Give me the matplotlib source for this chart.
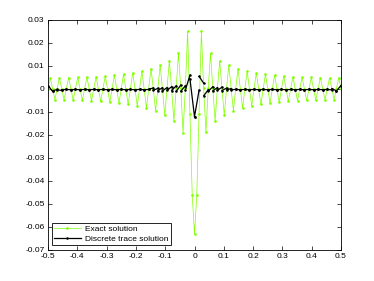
import numpy as np
import matplotlib
matplotlib.use("Agg")
import matplotlib.pyplot as plt
from matplotlib.ticker import FuncFormatter

# ---- data ----
# exact solution sampled on 129 points (h = 1/128), x from -0.5 to 0.5
exact_x = np.linspace(-0.5, 0.5, 129)
exact_left = [
    0.0002, 0.0048, 0.0001, -0.0046, 0.0001, 0.0048, 0.0001, -0.0047,
    0.0001, 0.0049, 0.0001, -0.0048, 0.0001, 0.0050, 0.0001, -0.0050,
    0.0001, 0.0051, 0.0001, -0.0051, 0.0001, 0.0053, 0.0001, -0.0054,
    0.0001, 0.0056, 0.0001, -0.0058, 0.0001, 0.0060, 0.0001, -0.0062,
    0.0001, 0.0064, 0.0001, -0.0067, 0.0001, 0.0070, 0.0001, -0.0074,
    0.0001, 0.0078, 0.0001, -0.0083, 0.0001, 0.0088, 0.0001, -0.0095,
    0.0002, 0.0103, 0.0002, -0.0115, 0.0002, 0.0122, 0.0002, -0.0140,
    0.0003, 0.0156, 0.0003, -0.0190, 0.0004, 0.0250, -0.0110, -0.0460,
]
exact_center = [-0.0630]
exact_right = [
    -0.0460, -0.0110, 0.0250, 0.0004, -0.0188, 0.0003, 0.0155, 0.0003,
    -0.0139, 0.0002, 0.0121, 0.0002, -0.0114, 0.0002, 0.0104, 0.0002,
    -0.0095, 0.0001, 0.0088, 0.0001, -0.0083, 0.0001, 0.0077, 0.0001,
    -0.0074, 0.0001, 0.0070, 0.0001, -0.0067, 0.0001, 0.0064, 0.0001,
    -0.0062, 0.0001, 0.0060, 0.0001, -0.0058, 0.0001, 0.0056, 0.0001,
    -0.0054, 0.0001, 0.0053, 0.0001, -0.0051, 0.0001, 0.0051, 0.0001,
    -0.0050, 0.0001, 0.0050, 0.0001, -0.0048, 0.0001, 0.0049, 0.0001,
    -0.0047, 0.0001, 0.0048, 0.0001, -0.0046, 0.0001, 0.0048, 0.0002,
]
exact_y = np.array(exact_left + exact_center + exact_right)

# discrete trace solution: 64 elements, value at left / right end of each element
n_elem = 64
trace_left = [
    0.0015, -0.0008, -0.0004, -0.0003, -0.0002, -0.0003, -0.0002, -0.0003,
    -0.0002, -0.0003, -0.0002, -0.0003, -0.0002, -0.0003, -0.0002, -0.0003,
    -0.0002, -0.0003, -0.0002, -0.0003, -0.0002, -0.0003, -0.0002, -0.0006,
    -0.0007, -0.0008, -0.0006, -0.0007, -0.0010, -0.0010, -0.0005, 0.0045,
    -0.0120, 0.0055, -0.0030, -0.0010, -0.0008, -0.0006, -0.0007, -0.0004,
    -0.0003, -0.0002, -0.0003, -0.0002, -0.0003, -0.0002, -0.0003, -0.0002,
    -0.0003, -0.0002, -0.0003, -0.0002, -0.0003, -0.0002, -0.0003, -0.0002,
    -0.0003, -0.0002, -0.0003, -0.0002, -0.0003, -0.0002, 0.0002, -0.0008,
]
trace_right = [
    -0.0010, -0.0002, -0.0006, -0.0002, -0.0003, -0.0002, -0.0003, -0.0002,
    -0.0003, -0.0002, -0.0003, -0.0002, -0.0003, -0.0002, -0.0003, -0.0002,
    -0.0003, -0.0002, -0.0003, -0.0002, -0.0003, -0.0002, 0.0005, 0.0003,
    0.0006, 0.0006, 0.0010, 0.0014, 0.0017, 0.0014, 0.0060, -0.0120,
    -0.0005, 0.0025, -0.0003, 0.0010, 0.0006, 0.0008, 0.0004, 0.0002,
    -0.0002, -0.0003, -0.0002, -0.0003, -0.0002, -0.0003, -0.0002, -0.0003,
    -0.0002, -0.0003, -0.0002, -0.0003, -0.0002, -0.0003, -0.0002, -0.0003,
    -0.0002, -0.0003, -0.0002, -0.0003, -0.0002, -0.0004, -0.0008, 0.0015,
]

x_ticks = [-0.5, -0.4, -0.3, -0.2, -0.1, 0, 0.1, 0.2, 0.3, 0.4, 0.5]
y_ticks = [0.03, 0.02, 0.01, 0, -0.01, -0.02, -0.03, -0.04, -0.05, -0.06, -0.07]
labels = ["Exact solution", "Discrete trace solution"]

# ---- build trace segments ----
edges = np.linspace(-0.5, 0.5, n_elem + 1)
tx, ty = [], []
for e in range(n_elem):
    tx += [edges[e], edges[e + 1], np.nan]
    ty += [trace_left[e], trace_right[e], np.nan]

plt.rcParams['font.family'] = ['Liberation Sans', 'DejaVu Sans']
plt.rcParams['font.size'] = 6

fig = plt.figure(figsize=(3.74, 2.81), dpi=100)
ax = fig.add_axes([48 / 374, 31 / 281, 293 / 374, 230 / 281])

green = '#7fff00'
ax.plot(exact_x, exact_y, '-', color=green, lw=0.5, marker='.', ms=1.8,
        mec=green, mfc=green, label=labels[0])
ax.plot(tx, ty, '-', color='black', lw=0.9, marker='.', ms=1.6,
        label=labels[1])

ax.set_xlim(-0.5, 0.5)
ax.set_ylim(-0.07, 0.03)
ax.set_xticks(x_ticks)
ax.set_yticks(y_ticks)
fmt = FuncFormatter(lambda v, p: '0' if abs(v) < 1e-12 else f'{v:g}')
ax.xaxis.set_major_formatter(fmt)
ax.yaxis.set_major_formatter(fmt)
ax.tick_params(direction='in', length=3, width=0.5, top=True, right=True,
               labelsize=6, pad=2.5)
for s in ax.spines.values():
    s.set_linewidth(0.6)

leg = ax.legend(loc='lower left', bbox_to_anchor=(0.012, 0.02),
                borderaxespad=0, fancybox=False, framealpha=1,
                edgecolor='black', fontsize=6, handlelength=3.2,
                borderpad=0.3, labelspacing=0.2, handletextpad=0.5)
leg.get_frame().set_linewidth(0.6)

fig.savefig('out.png', dpi=100)
